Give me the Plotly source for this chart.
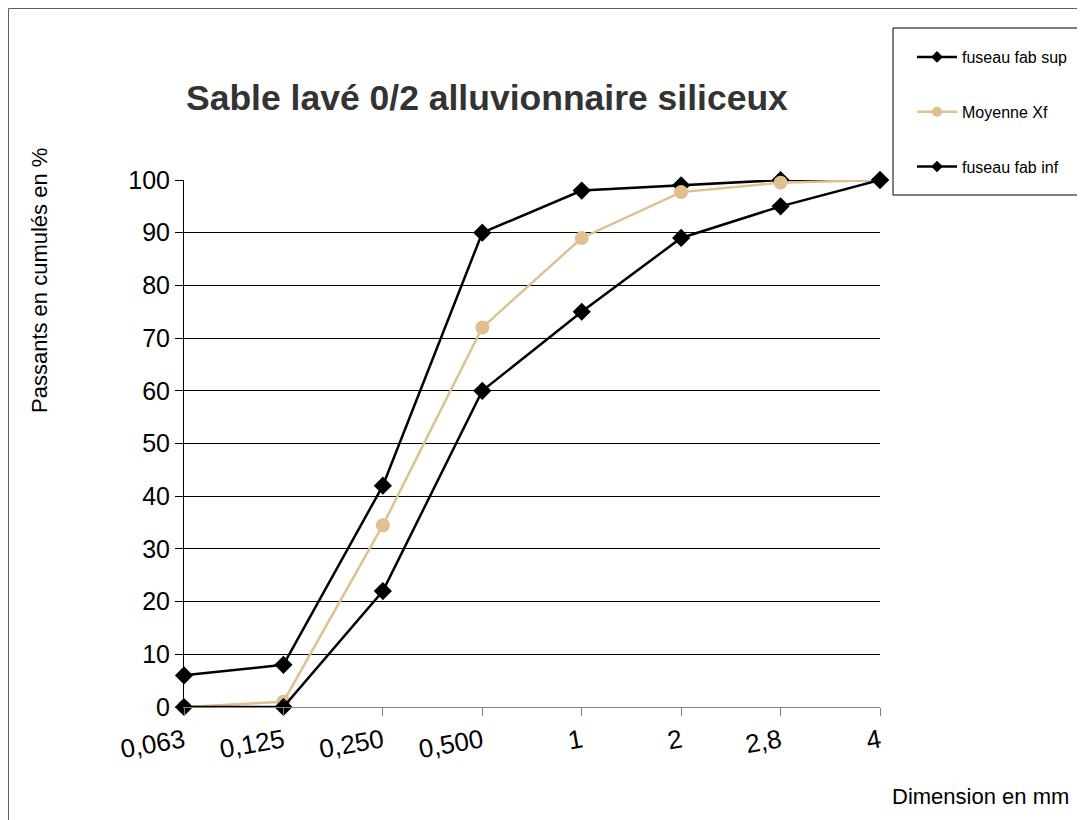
import plotly.graph_objects as go

categories = ["0,063", "0,125", "0,250", "0,500", "1", "2", "2,8", "4"]
fuseau_sup = [6, 8, 42, 90, 98, 99, 100, 100]
moyenne_xf = [0, 1, 34.5, 72, 89, 97.7, 99.5, 100]
fuseau_inf = [0, 0, 22, 60, 75, 89, 95, 100]
y_ticks = [0, 10, 20, 30, 40, 50, 60, 70, 80, 90, 100]
series_names = ["fuseau fab sup", "Moyenne Xf", "fuseau fab inf"]

OFF = 8  # page body margin
W, H = 1085, 820
L = 184 - OFF
T = 180 - OFF
R = W - (880 - OFF)
B = H - (707 - OFF)
pw, ph = W - L - R, H - T - B


def px(xs):
    return (xs - OFF - L) / pw


def py(ys):
    return (H - B - (ys - OFF)) / ph


FONT = "Liberation Sans, Arial, sans-serif"
TAN = "#DFC08F"

fig = go.Figure()
styles = [
    dict(color="black", symbol="diamond", size=14, lsize=9),
    dict(color=TAN, symbol="circle", size=14, lsize=10),
    dict(color="black", symbol="diamond", size=14, lsize=9),
]
values = [fuseau_sup, moyenne_xf, fuseau_inf]
for name, vals, st in zip(series_names, values, styles):
    fig.add_trace(go.Scatter(
        x=categories, y=vals, name=name, mode="lines+markers",
        line=dict(color=st["color"], width=2.5),
        marker=dict(symbol=st["symbol"], size=st["size"], color=st["color"]),
        cliponaxis=False, showlegend=False))
for i, (name, st) in enumerate(zip(series_names, styles)):
    fig.add_trace(go.Scatter(
        x=[None], y=[None], name=name, mode="lines+markers",
        line=dict(color=st["color"], width=2.5),
        marker=dict(symbol=st["symbol"], size=st["lsize"], color=st["color"]),
        legendgroup="g%d" % i, showlegend=True))

fig.update_layout(
    width=W, height=H,
    margin=dict(l=L, r=R, t=T, b=B, autoexpand=False),
    paper_bgcolor="white", plot_bgcolor="white",
    font=dict(family=FONT, color="black"),
    showlegend=True,
    legend=dict(
        x=px(912), y=py(40), xanchor="left", yanchor="top",
        bgcolor="rgba(0,0,0,0)", borderwidth=0,
        font=dict(size=16, family=FONT, color="black"),
        tracegroupgap=31, itemwidth=40,
    ),
    xaxis=dict(
        type="category", range=[0, 7],
        showgrid=False, showline=True, linecolor="#808080", linewidth=1,
        ticks="outside", ticklen=8, tickcolor="#808080", tickwidth=1,
        tickangle=-10, tickfont=dict(size=26, family=FONT, color="black"),
        zeroline=False,
    ),
    yaxis=dict(
        range=[0, 100], tickvals=y_ticks,
        showgrid=True, gridcolor="black", gridwidth=1,
        showline=True, linecolor="black", linewidth=1,
        ticks="outside", ticklen=8, tickcolor="black",
        tickfont=dict(size=25, family=FONT, color="black"),
        zeroline=False,
    ),
    annotations=[
        dict(text="<b>Sable lavé 0/2 alluvionnaire siliceux</b>",
             x=px(487), y=py(98), xref="paper", yref="paper",
             xanchor="center", yanchor="middle", showarrow=False,
             font=dict(size=35.5, family=FONT, color="#333333")),
        dict(text="Passants en cumulés en %",
             x=px(39), y=py(281), xref="paper", yref="paper",
             xanchor="center", yanchor="middle", showarrow=False, textangle=-90,
             font=dict(size=22, family=FONT, color="black")),
        dict(text="Dimension en mm",
             x=px(980), y=py(796), xref="paper", yref="paper",
             xanchor="center", yanchor="middle", showarrow=False,
             font=dict(size=22, family=FONT, color="black")),
    ],
    shapes=[
        dict(type="rect", xref="paper", yref="paper",
             x0=px(8.5), x1=px(W + 20), y0=py(8.5), y1=py(H + 20),
             line=dict(color="#606060", width=1)),
        dict(type="rect", xref="paper", yref="paper",
             x0=px(893), x1=px(1080), y0=py(28), y1=py(195),
             line=dict(color="black", width=1)),
    ],
)

fig.write_html("out.html")
